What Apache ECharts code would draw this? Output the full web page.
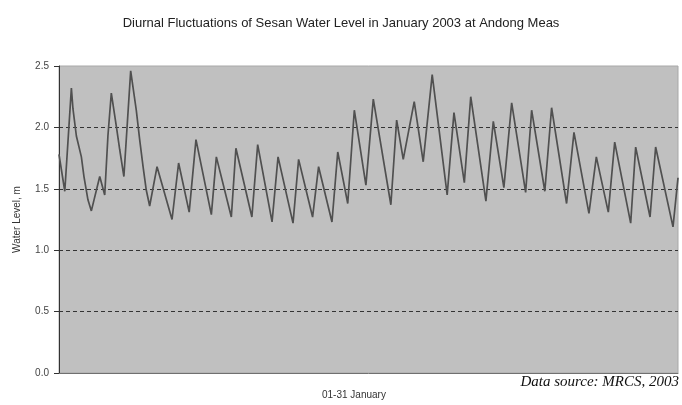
<!DOCTYPE html>
<html>
<head>
<meta charset="utf-8">
<script src="https://cdn.jsdelivr.net/npm/echarts@6/dist/echarts.min.js"></script>
<style>
html,body{margin:0;padding:0;background:#fff;}
#chart{width:682px;height:405px;}
</style>
</head>
<body>
<div id="chart"></div>
<script>
// Time in days from 1 January 00:00 (turning points of the water level trace)
const dayOffsets = [
  0.00, 0.29, 0.62, 0.70, 0.87, 1.12, 1.25, 1.45, 1.62, 2.04, 2.29, 2.45, 2.62, 2.87, 3.04, 3.25,
  3.59, 3.87, 4.04, 4.21, 4.37, 4.54, 4.91, 5.66, 5.99, 6.52, 6.86, 7.63, 7.88, 8.63, 8.86, 9.66,
  9.95, 10.67, 10.97, 11.72, 12.00, 12.70, 13.00, 13.67, 13.96, 14.46, 14.79, 15.37, 15.74, 16.62,
  16.91, 17.24, 17.79, 18.24, 18.69, 19.44, 19.78, 20.30, 20.62, 21.38, 21.75, 22.28, 22.67, 23.37,
  23.67, 24.33, 24.67, 25.42, 25.79, 26.54, 26.91, 27.51, 27.83, 28.63, 28.88, 29.60, 29.88, 30.75, 31.00
];
// Water level, m
const waterLevel = [
  1.78, 1.48, 2.32, 2.15, 1.93, 1.76, 1.60, 1.41, 1.32, 1.60, 1.45, 1.93, 2.28, 2.01, 1.82, 1.60,
  2.46, 2.14, 1.90, 1.68, 1.49, 1.36, 1.68, 1.25, 1.71, 1.31, 1.90, 1.29, 1.76, 1.27, 1.83, 1.27,
  1.86, 1.23, 1.76, 1.22, 1.74, 1.27, 1.68, 1.23, 1.80, 1.38, 2.14, 1.53, 2.23, 1.37,
  2.06, 1.74, 2.21, 1.72, 2.43, 1.45, 2.12, 1.55, 2.25, 1.40, 2.05, 1.51, 2.20, 1.47,
  2.14, 1.48, 2.16, 1.38, 1.96, 1.30, 1.76, 1.31, 1.88, 1.22, 1.84, 1.27, 1.84, 1.19, 1.59
];
const yTicks = [0, 0.5, 1.0, 1.5, 2.0, 2.5];

const titleText = 'Diurnal Fluctuations of Sesan Water Level in January 2003 at Andong Meas';
const xName = '01-31 January';
const yName = 'Water Level, m';
const sourceText = 'Data source: MRCS, 2003';

const chart = echarts.init(document.getElementById('chart'), null, {renderer: 'canvas'});
const seriesData = dayOffsets.map((d, i) => [d, waterLevel[i]]);

chart.setOption({
  animation: false,
  backgroundColor: '#ffffff',
  title: {
    text: titleText,
    left: 'center',
    top: 12,
    textStyle: {fontFamily: 'Liberation Sans, Arial', fontSize: 13, fontWeight: 'normal', color: '#222'}
  },
  grid: {
    left: 59, right: 4, top: 66, bottom: 32,
    show: true, backgroundColor: '#c0c0c0', borderColor: '#a8a8a8', borderWidth: 1
  },
  xAxis: {
    type: 'value', min: 0, max: 31,
    axisLine: {show: true, onZero: false, lineStyle: {color: '#707070', width: 1}},
    axisTick: {show: false},
    axisLabel: {show: false},
    splitLine: {show: false}
  },
  yAxis: {
    type: 'value', min: 0, max: 2.5, interval: 0.5,
    name: yName, nameLocation: 'middle', nameGap: 37, nameRotate: 90,
    nameTextStyle: {fontFamily: 'Liberation Sans, Arial', fontSize: 10, color: '#333'},
    axisLine: {show: true, lineStyle: {color: '#333', width: 1}},
    axisTick: {show: true, length: 5, lineStyle: {color: '#333'}},
    axisLabel: {
      fontFamily: 'Liberation Sans, Arial', fontSize: 10, color: '#444', margin: 10,
      formatter: v => yTicks.includes(v) ? v.toFixed(1) : ''
    },
    splitLine: {
      show: true,
      lineStyle: {
        color: ['rgba(0,0,0,0)', '#333', '#333', '#333', '#333', 'rgba(0,0,0,0)'],
        type: [4, 3], width: 1
      }
    }
  },
  series: [{
    type: 'line',
    data: seriesData,
    showSymbol: false,
    lineStyle: {color: '#505050', width: 1.7},
    z: 3
  }],
  graphic: [
    {
      type: 'text', left: 322, top: 390,
      style: {text: xName, font: '10px "Liberation Sans", Arial', fill: '#333'}
    },
    {
      type: 'text', right: 3, top: 375,
      style: {text: sourceText, font: 'italic 15px "Liberation Serif", "Times New Roman", serif', fill: '#111'}
    }
  ]
});
</script>
</body>
</html>
